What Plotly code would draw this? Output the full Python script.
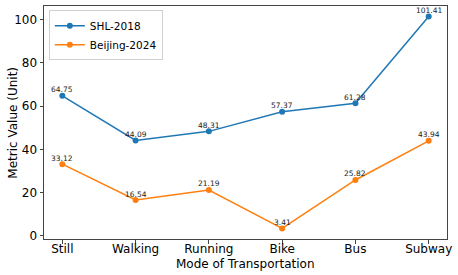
import plotly.graph_objects as go

categories = ["Still", "Walking", "Running", "Bike", "Bus", "Subway"]
shl_2018 = [64.75, 44.09, 48.31, 57.37, 61.28, 101.41]
beijing_2024 = [33.12, 16.54, 21.19, 3.41, 25.82, 43.94]
series_names = ["SHL-2018", "Beijing-2024"]
colors = ["#1f77b4", "#ff7f0e"]
x_title = "Mode of Transportation"
y_title = "Metric Value (Unit)"

x_idx = list(range(len(categories)))
fig = go.Figure()
annotations = []
for name, vals, c in zip(series_names, [shl_2018, beijing_2024], colors):
    fig.add_trace(go.Scatter(x=x_idx, y=vals, mode="lines+markers", name=name,
                             line=dict(color=c, width=1.5),
                             marker=dict(color=c, size=6)))
    for xi, v in zip(x_idx, vals):
        annotations.append(dict(x=xi, y=v, xref="x", yref="y", text=f"{v:.2f}",
                                showarrow=False, yshift=6,
                                font=dict(size=7.5, color="#222222", family="DejaVu Sans")))

# axis titles as annotations for precise placement
annotations.append(dict(x=0.5, y=-0.108, xref="paper", yref="paper", text=x_title,
                        showarrow=False, xanchor="center", yanchor="middle",
                        font=dict(size=12)))
annotations.append(dict(x=-0.079, y=0.5, xref="paper", yref="paper", text=y_title,
                        showarrow=False, xanchor="center", yanchor="middle", textangle=-90,
                        font=dict(size=12)))

fig.update_layout(
    width=458, height=275,
    margin=dict(l=44, r=11, t=6, b=36),
    paper_bgcolor="white", plot_bgcolor="white",
    font=dict(family="DejaVu Sans", size=12, color="black"),
    annotations=annotations,
    showlegend=True,
    legend=dict(x=0.012, y=0.982, xanchor="left", yanchor="top",
                bordercolor="#d0d0d0", borderwidth=1, bgcolor="rgba(255,255,255,0.8)",
                font=dict(size=10.5), tracegroupgap=0, itemwidth=30),
)
fig.update_xaxes(range=[-0.25, 5.25], tickmode="array", tickvals=x_idx, ticktext=categories,
                 showgrid=False, zeroline=False, showline=True, linecolor="#444444", linewidth=1,
                 mirror=True, ticks="outside", ticklen=3.5, tickcolor="#444444",
                 ticklabelstandoff=-5)
fig.update_yaxes(range=[-1.49, 106.31], tickvals=[0, 20, 40, 60, 80, 100],
                 showgrid=False, zeroline=False, showline=True, linecolor="#444444", linewidth=1,
                 mirror=True, ticks="outside", ticklen=3.5, tickcolor="#444444")
fig.write_html("out.html", config={"displayModeBar": False},
               post_script="document.body.style.margin='0px';")
